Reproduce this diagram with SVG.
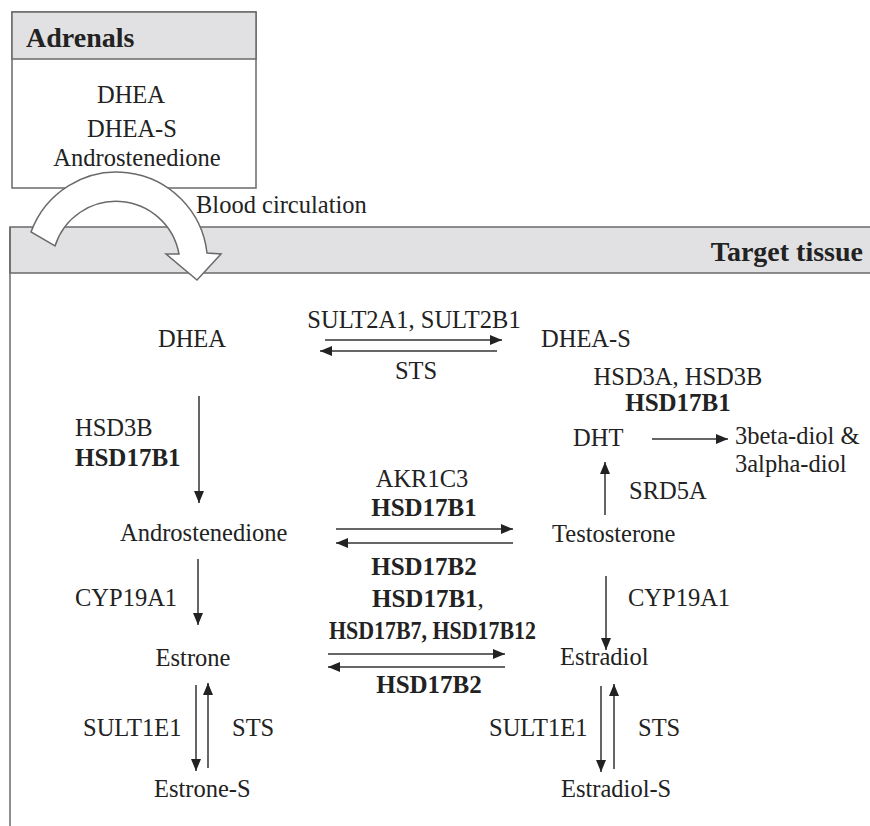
<svg xmlns="http://www.w3.org/2000/svg" width="870" height="826" viewBox="0 0 870 826">
<defs>
<style>
.t{font-family:"Liberation Serif","Times New Roman",serif;font-size:24.5px;fill:#222}
.b{font-family:"Liberation Serif","Times New Roman",serif;font-size:25px;font-weight:bold;fill:#222}
.h{font-family:"Liberation Serif","Times New Roman",serif;font-size:28px;font-weight:bold;fill:#222}
.m{text-anchor:middle}
.box{fill:#fff;stroke:#6a6a6a;stroke-width:1.5}
.band{fill:#e1e1e3;stroke:#6a6a6a;stroke-width:1.5}
.c line{stroke:#333;stroke-width:1.5;marker-end:url(#ah)}
</style>
<marker id="ah" viewBox="0 0 12 10" refX="12" refY="5" markerWidth="12" markerHeight="10" markerUnits="userSpaceOnUse" orient="auto">
<path d="M0,0 L12,5 L0,10 Z" fill="#222"/>
</marker>
</defs>
<rect width="870" height="826" fill="#fff"/>

<g id="adrenals">
<rect class="box" x="12" y="12" width="244" height="176"/>
<rect class="band" x="12" y="12" width="244" height="47"/>
<text class="h" x="26" y="47">Adrenals</text>
<text class="t m" x="131" y="103">DHEA</text>
<text class="t m" x="132" y="137">DHEA-S</text>
<text class="t m" x="137" y="166">Androstenedione</text>
</g>

<g id="target-tissue">
<rect class="band" x="10" y="227" width="880" height="46"/>
<line x1="10" y1="227" x2="10" y2="830" stroke="#6a6a6a" stroke-width="1.5"/>
<text class="h" x="863" y="261" text-anchor="end">Target tissue</text>
</g>

<g id="blood-circulation">
<path d="M31,232 A91,91 0 0 1 207,253 L221,254 L197,280 L166,254 L179,254 A64,64 0 0 0 55,246 Z" fill="#fff" stroke="#6a6a6a" stroke-width="1.5"/>
<text class="t" x="196" y="213">Blood circulation</text>
</g>

<g id="dhea"><text class="t m" x="192" y="347">DHEA</text></g>
<g id="dhea-s"><text class="t" x="541" y="347">DHEA-S</text></g>
<g id="androstenedione"><text class="t" x="120" y="541">Androstenedione</text></g>
<g id="testosterone"><text class="t" x="552" y="542">Testosterone</text></g>
<g id="dht"><text class="t" x="573" y="446">DHT</text></g>
<g id="diols"><text class="t" x="735" y="444">3beta-diol &amp;</text><text class="t" x="735" y="472">3alpha-diol</text></g>
<g id="estrone"><text class="t m" x="193" y="666">Estrone</text></g>
<g id="estradiol"><text class="t" x="560" y="665">Estradiol</text></g>
<g id="estrone-s"><text class="t" x="154" y="797">Estrone-S</text></g>
<g id="estradiol-s"><text class="t" x="561" y="797">Estradiol-S</text></g>

<g id="labels">
<text class="t m" x="414" y="328">SULT2A1, SULT2B1</text>
<text class="t m" x="416" y="379">STS</text>
<text class="t m" x="678" y="385">HSD3A, HSD3B</text>
<text class="b m" x="678" y="411">HSD17B1</text>
<text class="t" x="75" y="436">HSD3B</text>
<text class="b" x="75" y="466">HSD17B1</text>
<text class="t m" x="422" y="487">AKR1C3</text>
<text class="b m" x="424" y="516">HSD17B1</text>
<text class="t" x="629" y="499">SRD5A</text>
<text class="b m" x="424" y="575">HSD17B2</text>
<text class="t" x="75" y="606">CYP19A1</text>
<text class="t" x="628" y="606">CYP19A1</text>
<text class="b" x="372" y="607">HSD17B1<tspan font-weight="normal">,</tspan></text>
<text class="b" x="329" y="639" textLength="207" lengthAdjust="spacingAndGlyphs">HSD17B7, HSD17B12</text>
<text class="b m" x="429" y="693">HSD17B2</text>
<text class="t" x="83" y="736">SULT1E1</text>
<text class="t" x="232" y="736">STS</text>
<text class="t" x="489" y="736">SULT1E1</text>
<text class="t" x="638" y="736">STS</text>
</g>

<g id="connectors" class="c">
<line x1="325" y1="340" x2="502" y2="340"/>
<line x1="497" y1="351" x2="320" y2="351"/>
<line x1="199" y1="396" x2="199" y2="503"/>
<line x1="652" y1="439" x2="728" y2="439"/>
<line x1="605" y1="515" x2="605" y2="462"/>
<line x1="336" y1="529" x2="513" y2="529"/>
<line x1="513" y1="543" x2="336" y2="543"/>
<line x1="198" y1="559" x2="198" y2="625"/>
<line x1="606" y1="576" x2="606" y2="650"/>
<line x1="328" y1="654" x2="505" y2="654"/>
<line x1="505" y1="667" x2="328" y2="667"/>
<line x1="196" y1="685" x2="196" y2="771"/>
<line x1="208" y1="768" x2="208" y2="683"/>
<line x1="601" y1="686" x2="601" y2="772"/>
<line x1="614" y1="769" x2="614" y2="684"/>
</g>
</svg>
